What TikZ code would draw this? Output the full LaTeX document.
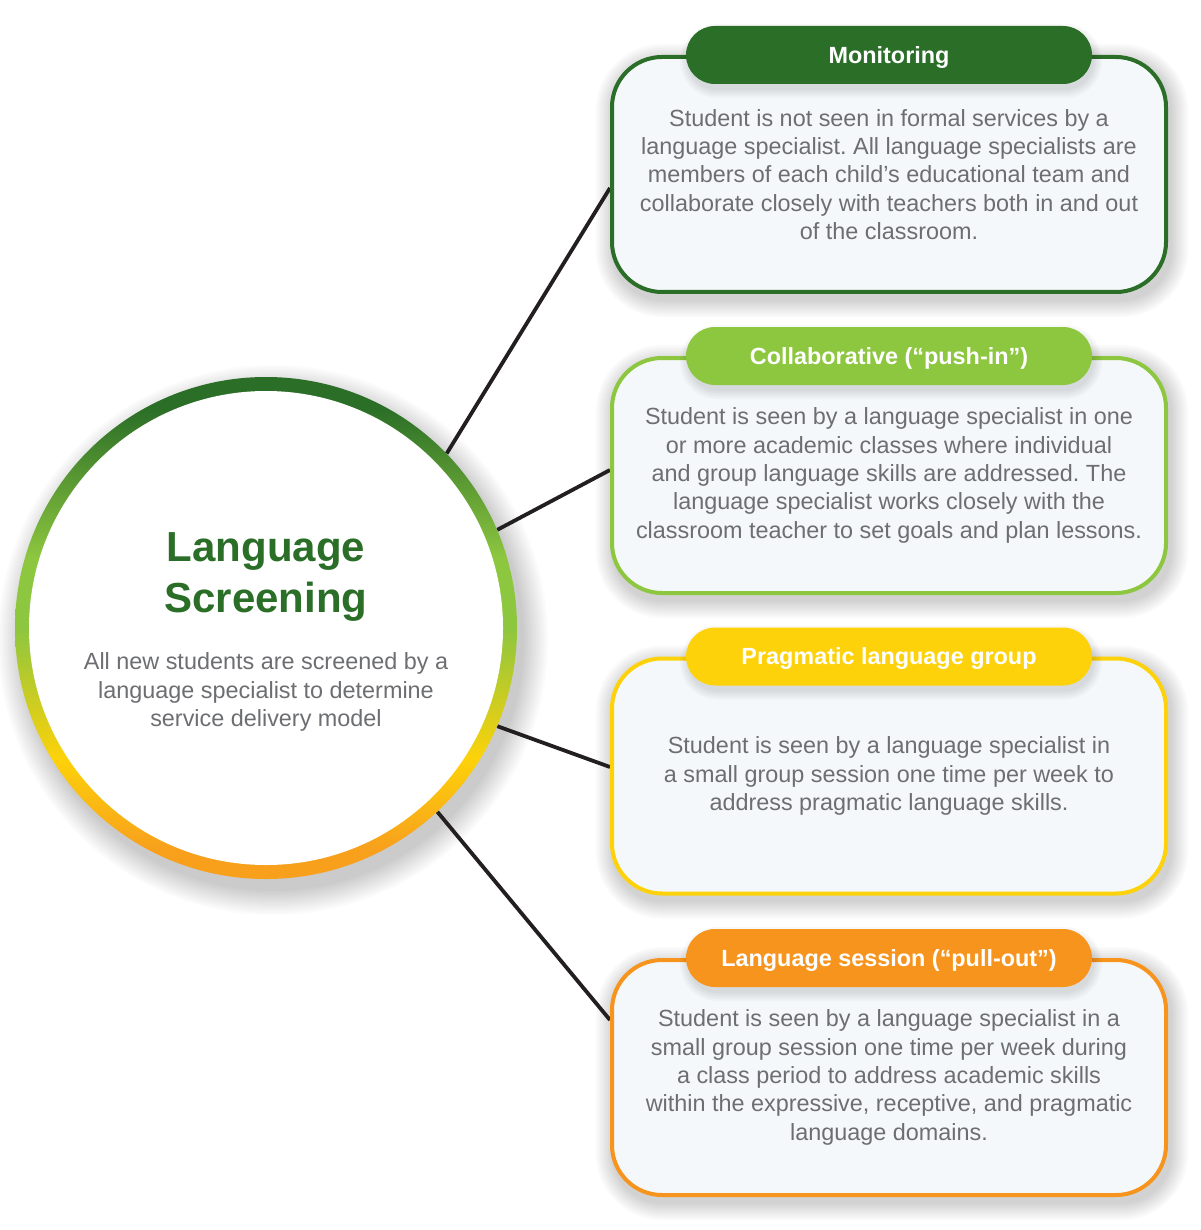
\documentclass[tikz,border=0pt]{standalone}
\usepackage{fontspec}
\setmainfont{Liberation Sans}
\usetikzlibrary{calc}
\frenchspacing
\definecolor{dgreen}{HTML}{2A6E27}
\definecolor{lgreen}{HTML}{8DC63F}
\definecolor{yell}{HTML}{FDD20A}
\definecolor{orng}{HTML}{F7941D}
\definecolor{ringorange}{HTML}{F8A01C}
\definecolor{bodygray}{HTML}{6D6E71}
\definecolor{boxfill}{HTML}{F5F8FA}
\definecolor{linecol}{HTML}{231F20}
\pgfdeclareverticalshading{ringshade}{100bp}{color(0bp)=(ringorange); color(25bp)=(ringorange); color(28bp)=(ringorange); color(37bp)=(yell); color(50bp)=(lgreen); color(57bp)=(lgreen); color(72bp)=(dgreen); color(100bp)=(dgreen)}
\pgfdeclarelayer{bg}
\pgfdeclarelayer{shadowlayer}
\pgfdeclarelayer{linelayer}
\pgfsetlayers{bg,shadowlayer,linelayer,main}
\tikzset{
  panel/.style={draw=#1, line width=4pt, fill=boxfill, rounded corners=50pt,
    minimum width=554pt, minimum height=235pt, inner sep=0pt, align=center,
    font=\fontsize{23.4}{28.3}\selectfont, text=bodygray},
  header/.style={fill=#1, rounded corners=29pt, minimum width=406pt, minimum height=58pt,
    inner sep=0pt, text=white, font=\bfseries\fontsize{23.4}{28}\selectfont,
    text height=16.8pt, text depth=0pt},
  conn/.style={draw=linecol, line width=3.8pt},
  bodytext/.style={align=center, font=\fontsize{23.4}{28.4}\selectfont, text=bodygray}
}
\newcommand{\softbox}[4]{% node, corner radius, spread, opacity
  \begin{pgfonlayer}{shadowlayer}
  \foreach \s in {0,2,...,#3} {
    \fill[black, opacity=#4, rounded corners={(#2+\s)*1pt}]
      ($(#1.south west)+(2-\s,7+\s)$) rectangle ($(#1.north east)+(4+\s,5-\s)$);
  }
  \end{pgfonlayer}}
\newcommand{\pillshadow}[1]{% box node: shadow of its header pill, drawn on the box
  \foreach \s in {0,2,...,8} {
    \fill[black, opacity=0.025, rounded corners={(29+\s)*1pt}]
      ($(#1.north)+(-203-\s+2,-29-\s+6)$) rectangle ($(#1.north)+(203+\s+2,29+\s+6)$);
  }}
\begin{document}
\begin{tikzpicture}[x=1pt,y=-1pt]
\useasboundingbox (0,0) rectangle (1200,1230);
\begin{pgfonlayer}{bg}
\fill[white] (0,0) rectangle (1200,1230);
\end{pgfonlayer}

% central circle
\node[circle, minimum size=502pt, inner sep=0pt] (c) at (266,628) {};
\begin{pgfonlayer}{shadowlayer}
\foreach \s in {0,2,...,24} {
  \fill[black, opacity=0.016] ($(c.center)+(7,12)$) circle ({(251+\s)*1pt});
}
\end{pgfonlayer}
\shade[shading=ringshade] (c.center) circle (251pt);
\fill[white] (c.center) circle (237pt);
\node[align=center, font=\bfseries\fontsize{42}{51}\selectfont, text=dgreen] (title) at (266,577) {Language\\Screening};
\node[bodytext] (desc) at (266,692) {All new students are screened by a\\language specialist to determine\\service delivery model};

% boxes
\node[panel=dgreen] (b1) at (889,174.5) {Student is not seen in formal services by a\\language specialist. All language specialists are\\members of each child’s educational team and\\collaborate closely with teachers both in and out\\of the classroom.};
\pillshadow{b1}
\node[header=dgreen] (h1) at (b1.north) {Monitoring};

\node[panel=lgreen] (b2) at (889,475.5) {Student is seen by a language specialist in one\\or more academic classes where individual\\and group language skills are addressed. The\\language specialist works closely with the\\classroom teacher to set goals and plan lessons.};
\pillshadow{b2}
\node[header=lgreen] (h2) at (b2.north) {Collaborative (“push-in”)};

\node[panel=yell] (b3) at (889,776) {Student is seen by a language specialist in\\a small group session one time per week to\\address pragmatic language skills.};
\pillshadow{b3}
\node[header=yell] (h3) at (b3.north) {Pragmatic language group};

\node[panel=orng] (b4) at (889,1077.5) {Student is seen by a language specialist in a\\small group session one time per week during\\a class period to address academic skills\\within the expressive, receptive, and pragmatic\\language domains.};
\pillshadow{b4}
\node[header=orng] (h4) at (b4.north) {Language session (“pull-out”)};

% soft shadows
\softbox{b1}{50}{16}{0.02}
\softbox{b2}{50}{16}{0.02}
\softbox{b3}{50}{16}{0.02}
\softbox{b4}{50}{16}{0.02}

% connectors
\begin{pgfonlayer}{linelayer}
\draw[conn] (c.44) -- ($(b1.west)+(0,13.5)$);
\draw[conn] (c.23.6) -- ($(b2.west)+(0,-5.5)$);
\draw[conn] (c.-23.2) -- ($(b3.west)+(0,-9)$);
\draw[conn] (c.-47.6) -- ($(b4.west)+(0,-57.5)$);
\end{pgfonlayer}
\end{tikzpicture}
\end{document}
